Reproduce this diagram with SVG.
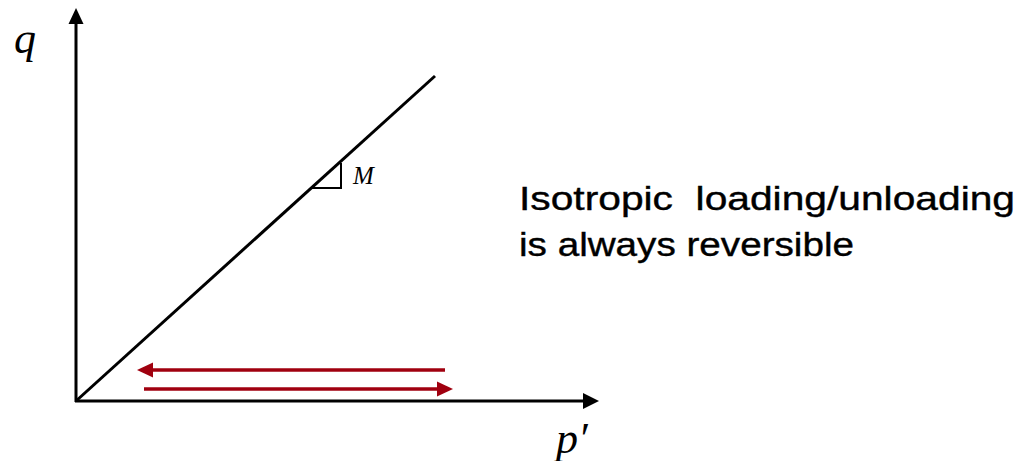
<svg xmlns="http://www.w3.org/2000/svg" width="1029" height="461" viewBox="0 0 1029 461">
<defs>
<style>
.ax{stroke:#000;stroke-width:3;fill:none}
.red{stroke:#A0000F;stroke-width:3.5;fill:none}
.math{font-family:"Liberation Serif","Times New Roman",serif;font-style:italic;fill:#000}
.lbl{font-family:"Liberation Sans",Arial,sans-serif;font-size:34px;fill:#000;stroke:#000;stroke-width:0.4}
</style>
</defs>
<rect width="1029" height="461" fill="#fff"/>
<g id="axes">
<line class="ax" x1="76" y1="402" x2="76" y2="22"/>
<polygon points="76,8 68.5,24 83.5,24" fill="#000"/>
<line class="ax" x1="75" y1="401" x2="585" y2="401"/>
<polygon points="599,401 583,393 583,409" fill="#000"/>
</g>
<g id="csl">
<line class="ax" x1="76" y1="401" x2="435" y2="76"/>
<polyline points="312,188 341,188 341,163" fill="none" stroke="#000" stroke-width="2"/>
<text class="math" x="353" y="184" font-size="25">M</text>
</g>
<g id="connectors">
<line class="red" x1="445" y1="370" x2="150" y2="370"/>
<polygon points="137,370 153,362.5 153,377.5" fill="#A0000F"/>
<line class="red" x1="144" y1="389" x2="440" y2="389"/>
<polygon points="453,389 437,381.5 437,396.5" fill="#A0000F"/>
</g>
<g id="labels">
<text class="math" x="14" y="53" font-size="44">q</text>
<text class="math" x="556" y="453" font-size="44">p′</text>
<text class="lbl" x="519" y="210" textLength="496" lengthAdjust="spacingAndGlyphs" xml:space="preserve">Isotropic  loading/unloading</text>
<text class="lbl" x="519" y="256" textLength="335" lengthAdjust="spacingAndGlyphs">is always reversible</text>
</g>
</svg>
